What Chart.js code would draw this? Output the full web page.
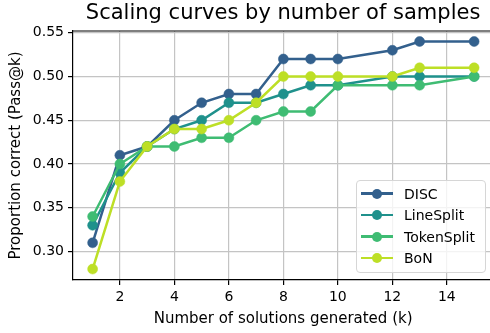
<!DOCTYPE html>
<html>
<head>
<meta charset="utf-8">
<script src="https://cdn.jsdelivr.net/npm/chart.js@4"></script>
<style>
  html, body { margin: 0; padding: 0; background: #fff; overflow: hidden; width: 490px; height: 333px; }
  #wrap { position: relative; width: 490px; height: 333px; overflow: hidden; }
  canvas { position: absolute; left: 0; top: 0; }
  #legend {
    position: absolute; left: 356px; top: 180px; width: 130px; height: 93px;
    box-sizing: border-box; border: 1px solid #d6d6d6; border-radius: 4px;
    background: rgba(255,255,255,0.8);
    font-family: "DejaVu Sans", sans-serif; font-size: 14px; color: #000;
  }
  .row { position: absolute; left: 0; height: 0; }
  .row .ln { position: absolute; left: 4px; width: 32px; height: 2.5px; top: -1.25px; }
  .row .dot { position: absolute; left: 15px; width: 10px; height: 10px; top: -5px; border-radius: 50%; }
  .row .tx { position: absolute; left: 47px; top: -9px; line-height: 18px; white-space: nowrap; }
</style>
</head>
<body>
<div id="wrap">
  <canvas id="c" width="500" height="333"></canvas>
  <div id="legend"></div>
</div>
<script>
// Number of solutions generated (k)
const kValues = [1, 2, 3, 4, 5, 6, 7, 8, 9, 10, 12, 13, 15];

// Pass@k per method
const disc       = [0.31, 0.41, 0.42, 0.45, 0.47, 0.48, 0.48, 0.52, 0.52, 0.52, 0.53, 0.54, 0.54];
const lineSplit  = [0.33, 0.39, 0.42, 0.44, 0.45, 0.47, 0.47, 0.48, 0.49, 0.49, 0.50, 0.50, 0.50];
const tokenSplit = [0.34, 0.40, 0.42, 0.42, 0.43, 0.43, 0.45, 0.46, 0.46, 0.49, 0.49, 0.49, 0.50];
const bon        = [0.28, 0.38, 0.42, 0.44, 0.44, 0.45, 0.47, 0.50, 0.50, 0.50, 0.50, 0.51, 0.51];

const seriesNames  = ["DISC", "LineSplit", "TokenSplit", "BoN"];
const seriesValues = [disc, lineSplit, tokenSplit, bon];
const seriesColors = ["#33608d", "#1f918c", "#3fbc73", "#bddf26"];

// Tick labels
const xTicks = [2, 4, 6, 8, 10, 12, 14];
const yTicks = [0.30, 0.35, 0.40, 0.45, 0.50, 0.55];

const FONT = "'DejaVu Sans', sans-serif";

const datasets = seriesNames.map((name, i) => ({
  label: name,
  data: kValues.map((k, j) => ({ x: k, y: seriesValues[i][j] })),
  borderColor: seriesColors[i],
  backgroundColor: seriesColors[i],
  pointBackgroundColor: seriesColors[i],
  pointBorderColor: seriesColors[i],
  borderWidth: 2.5,
  pointRadius: 5,
  pointBorderWidth: 0.5,
  pointHoverRadius: 5,
  tension: 0,
  fill: false,
  order: seriesNames.length - i   // later series drawn on top
}));

// Top frame line of the axes box
const topSpine = {
  id: 'topSpine',
  beforeDatasetsDraw(chart) {
    const { ctx, chartArea } = chart;
    ctx.save();
    ctx.strokeStyle = '#000';
    ctx.lineWidth = 1.2;
    ctx.beginPath();
    ctx.moveTo(chartArea.left, chartArea.top);
    ctx.lineTo(chartArea.right, chartArea.top);
    ctx.stroke();
    ctx.restore();
  }
};

new Chart(document.getElementById('c'), {
  type: 'line',
  data: { datasets },
  plugins: [topSpine],
  options: {
    responsive: false,
    animation: false,
    devicePixelRatio: 1,
    layout: { padding: { left: 0, right: 6.8, top: 0, bottom: 0 } },
    plugins: {
      legend: { display: false },
      tooltip: { enabled: false },
      title: {
        display: true,
        text: 'Scaling curves by number of samples',
        fullSize: false,
        color: '#000',
        font: { family: FONT, size: 21, weight: 'normal', lineHeight: 1.2 },
        padding: { top: 1.4, bottom: 4.4 }
      }
    },
    scales: {
      x: {
        type: 'linear',
        min: 0.28,
        max: 15.7,
        afterBuildTicks: s => { s.ticks = xTicks.map(v => ({ value: v })); },
        afterFit: s => { s.height = 53; },
        grid: { color: '#c4c4c4', lineWidth: 1.2, tickColor: '#000', tickLength: 5, tickWidth: 1.2 },
        border: { color: '#000', width: 1.2 },
        ticks: { color: '#000', font: { family: FONT, size: 14 }, padding: 4, maxRotation: 0, autoSkip: false },
        title: {
          display: true,
          text: 'Number of solutions generated (k)',
          color: '#000',
          font: { family: FONT, size: 15, lineHeight: 1.2 },
          padding: { top: 0, bottom: 5 }
        }
      },
      y: {
        type: 'linear',
        min: 0.2675,
        max: 0.552,
        afterBuildTicks: s => { s.ticks = yTicks.map(v => ({ value: v })); },
        afterFit: s => { s.width = 73; },
        grid: { color: '#c4c4c4', lineWidth: 1.2, tickColor: '#000', tickLength: 5, tickWidth: 1.2 },
        border: { color: '#000', width: 1.2 },
        ticks: { color: '#000', font: { family: FONT, size: 14 }, padding: 4, autoSkip: false,
                 callback: v => Number(v).toFixed(2) },
        title: {
          display: true,
          text: 'Proportion correct (Pass@k)',
          color: '#000',
          font: { family: FONT, size: 15, lineHeight: 1.2 },
          padding: { top: 7, bottom: 0 }
        }
      }
    }
  }
});

// Legend entries built from the series
const legend = document.getElementById('legend');
seriesNames.forEach((name, i) => {
  const row = document.createElement('div');
  row.className = 'row';
  row.style.top = (12.5 + i * 21.5) + 'px';
  row.innerHTML = '<div class="ln"></div><div class="dot"></div><div class="tx"></div>';
  row.querySelector('.ln').style.background = seriesColors[i];
  row.querySelector('.dot').style.background = seriesColors[i];
  row.querySelector('.tx').textContent = name;
  legend.appendChild(row);
});
</script>
</body>
</html>
